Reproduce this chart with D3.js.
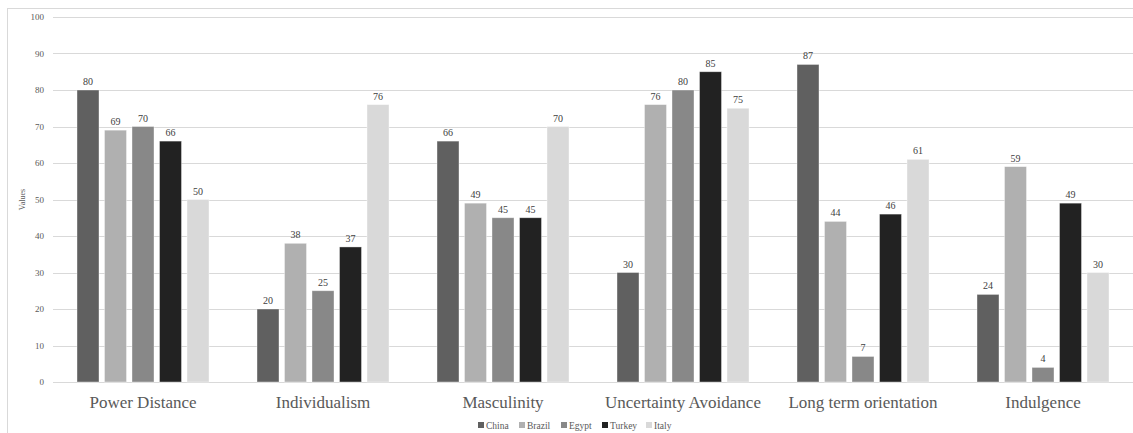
<!DOCTYPE html>
<html><head><meta charset="utf-8">
<script src="https://cdn.jsdelivr.net/npm/d3@7"></script>
<style>body{margin:0;background:#fff}svg{display:block}svg text{font-family:"Liberation Serif","Times New Roman",serif}</style>
</head><body><svg id="c" width="1133" height="433"></svg>
<script>
const categories = ["Power Distance","Individualism","Masculinity","Uncertainty Avoidance","Long term orientation","Indulgence"];
const seriesNames = ["China","Brazil","Egypt","Turkey","Italy"];
const china  = [80,20,66,30,87,24];
const brazil = [69,38,49,76,44,59];
const egypt  = [70,25,45,80,7,4];
const turkey = [66,37,45,85,46,49];
const italy  = [50,76,70,75,61,30];
const yTicks = [0,10,20,30,40,50,60,70,80,90,100];
const colors = ["#606060","#b0b0b0","#888888","#222222","#d9d9d9"];
const seriesVals = [china,brazil,egypt,turkey,italy];

const svg = d3.select("#c");
const font = '"Liberation Serif","Times New Roman",serif';
// outer border
svg.append("rect").attr("x",7.5).attr("y",8.5).attr("width",1140).attr("height",440)
  .attr("fill","none").attr("stroke","#d9d9d9");

const pLeft=53, pRight=1133, pTop=17, pBottom=382;
const x0 = d3.scaleBand().domain(categories).range([pLeft,pRight]).paddingInner(0).paddingOuter(0);
const x1 = d3.scaleBand().domain(seriesNames).range([24, x0.bandwidth()-24]).paddingInner(0.2).paddingOuter(0);
const y = d3.scaleLinear().domain([0,100]).range([pBottom,pTop]);

// grid
svg.append("g").selectAll("line").data(yTicks).join("line")
  .attr("x1",pLeft).attr("x2",pRight).attr("y1",d=>Math.round(y(d))+0.5).attr("y2",d=>Math.round(y(d))+0.5)
  .attr("stroke","#d9d9d9").attr("stroke-width",1);

// y axis labels
const yAxis = d3.axisLeft(y).tickValues(yTicks).tickSize(0).tickPadding(9);
const ga = svg.append("g").attr("transform",`translate(${pLeft},0)`).call(yAxis);
ga.attr("font-family",null);
ga.select(".domain").remove();
ga.selectAll("text").style("font-family",font).style("font-size","9px").attr("fill","#595959");

svg.append("text").attr("transform",`translate(25,${(pTop+pBottom)/2}) rotate(-90)`)
  .attr("text-anchor","middle").style("font-family",font).style("font-size","8px").attr("fill","#595959").text("Values");

// bars
const groups = svg.append("g").selectAll("g").data(categories).join("g")
  .attr("transform",d=>`translate(${x0(d)},0)`);
seriesNames.forEach((s,si)=>{
  groups.append("rect")
    .attr("x",x1(s)).attr("width",x1.bandwidth())
    .attr("y",(d,ci)=>y(seriesVals[si][ci])).attr("height",(d,ci)=>pBottom-y(seriesVals[si][ci]))
    .attr("fill",colors[si]).attr("stroke","#ffffff").attr("stroke-opacity",0.5).attr("stroke-width",0.75);
  groups.append("text")
    .attr("x",x1(s)+x1.bandwidth()/2).attr("y",(d,ci)=>y(seriesVals[si][ci])-5)
    .attr("text-anchor","middle").style("font-family",font).style("font-size","10px").attr("fill","#404040")
    .text((d,ci)=>seriesVals[si][ci]);
});

// x axis labels
const xAxis = d3.axisBottom(x0).tickSize(0).tickPadding(14);
const gx = svg.append("g").attr("transform",`translate(0,${pBottom})`).call(xAxis);
gx.attr("font-family",null);
gx.select(".domain").remove();
gx.selectAll("text").style("font-family",font).style("font-size","17px").attr("fill","#595959");

// legend
const legX = [478,519,561,602,646];
const lg = svg.append("g").selectAll("g").data(seriesNames).join("g")
  .attr("transform",(d,i)=>`translate(${legX[i]},425)`);
lg.append("rect").attr("x",0).attr("y",-3).attr("width",6).attr("height",6).attr("fill",(d,i)=>colors[i]);
lg.append("text").attr("x",8).attr("y",3.5).style("font-family",font).style("font-size","9.5px").attr("fill","#595959").text(d=>d);
</script></body></html>
